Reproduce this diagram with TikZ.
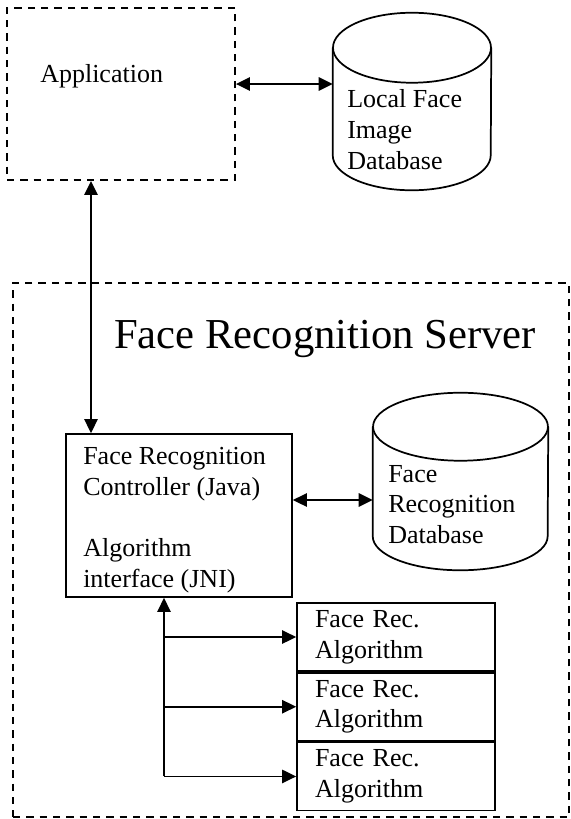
\documentclass[tikz,border=0pt]{standalone}
\usepackage{fontspec}
\setmainfont{Liberation Serif}
\usetikzlibrary{positioning}
\usetikzlibrary{arrows.meta, shapes, calc}

\begin{document}
\begin{tikzpicture}[x=0.75pt, y=-0.75pt, >={Triangle[length=10.5pt,width=10pt]}, font=\fontsize{19.5pt}{23pt}\selectfont]%

            \tikzstyle{dashbox} = [ rectangle, draw = black, line width = 1.4pt, dash pattern = on 5.5pt off 4.5pt, inner sep = 0pt]
            \tikzstyle{solidbox} = [ rectangle, draw = black, line width = 1.3pt, inner sep = 0pt]
            \tikzstyle{algbox} = [ solidbox, minimum width = 148.5pt, minimum height = 51pt, text width = 121.5pt, inner xsep = 13.5pt, align = left]
            \tikzstyle{dbbody} = [ rectangle, inner sep = 0pt]
            \tikzstyle{lbl} = [ anchor = north west, inner sep = 0pt, align = left]
            \tikzstyle{link} = [ line width = 1.3pt]
            \tikzstyle{dbline} = [ line width = 1.3pt]
        %
            \useasboundingbox (0,0) rectangle (571,819);

                %% Client side
                \node [dashbox, minimum width = 171pt, minimum height = 129pt] (app) at (121,94) {};
                \node [lbl] (app_lbl) at (40,64.5) {Application};

                \node [dbbody, minimum width = 118.5pt, minimum height = 80.25pt] (local_db) at (412,101.5) {};
                \draw [dbline] (local_db.north) ellipse [x radius = 59.25pt, y radius = 26.25pt];
                \draw [dbline] (local_db.north west) -- (local_db.south west) arc [start angle = 180, end angle = 360, x radius = 59.25pt, y radius = 26.25pt] -- (local_db.north east);
                \node [lbl] (local_lbl) at (347,89.5) {Local Face\\Image\\Database};

                \draw [link, <->] (app.east |- 0,84) -- (local_db.west |- 0,84);

                %% Server
                \node [dashbox, minimum width = 417pt, minimum height = 400.5pt] (srv) at (291,550) {};
                \node [font = \fontsize{32pt}{38pt}\selectfont, anchor = base] (srv_title) at (325,348) {Face Recognition Server};

                \node [solidbox, minimum width = 169.5pt, minimum height = 122.25pt] (ctrl) at (179,515.5) {};
                \node [lbl] (ctrl_lbl) at (83,447.5) {Face Recognition\\Controller (Java)\\[23pt]Algorithm\\interface (JNI)};

                \node [dbbody, minimum width = 131.25pt, minimum height = 81.75pt] (fr_db) at (460.5,481.5) {};
                \draw [dbline] (fr_db.north) ellipse [x radius = 65.6pt, y radius = 25.5pt];
                \draw [dbline] (fr_db.north west) -- (fr_db.south west) arc [start angle = 180, end angle = 360, x radius = 65.6pt, y radius = 25.5pt] -- (fr_db.north east);
                \node [lbl] (fr_lbl) at (388,464.8) {Face\\Recognition\\Database};

                \draw [link, <->] (app.south -| 91,0) -- (ctrl.north -| 91,0);
                \draw [link, <->] (ctrl.east |- 0,500) -- (fr_db.west |- 0,500);

                %% Algorithms
                \node [algbox] (alg_1) at (396,637) {Face Rec.\\Algorithm};
                \node [algbox, below = 0pt of alg_1] (alg_2) {Face Rec.\\Algorithm};
                \node [algbox, below = 0pt of alg_2] (alg_3) {Face Rec.\\Algorithm};

                \coordinate (bus) at (164,0);
                \draw [link, ->] (bus |- alg_3.west) -- (bus |- ctrl.south);
                \draw [link, ->] (bus |- alg_1.west) -- (alg_1.west);
                \draw [link, ->] (bus |- alg_2.west) -- (alg_2.west);
                \draw [link, ->] (bus |- alg_3.west) -- (alg_3.west);

        \end{tikzpicture}
\end{document}
